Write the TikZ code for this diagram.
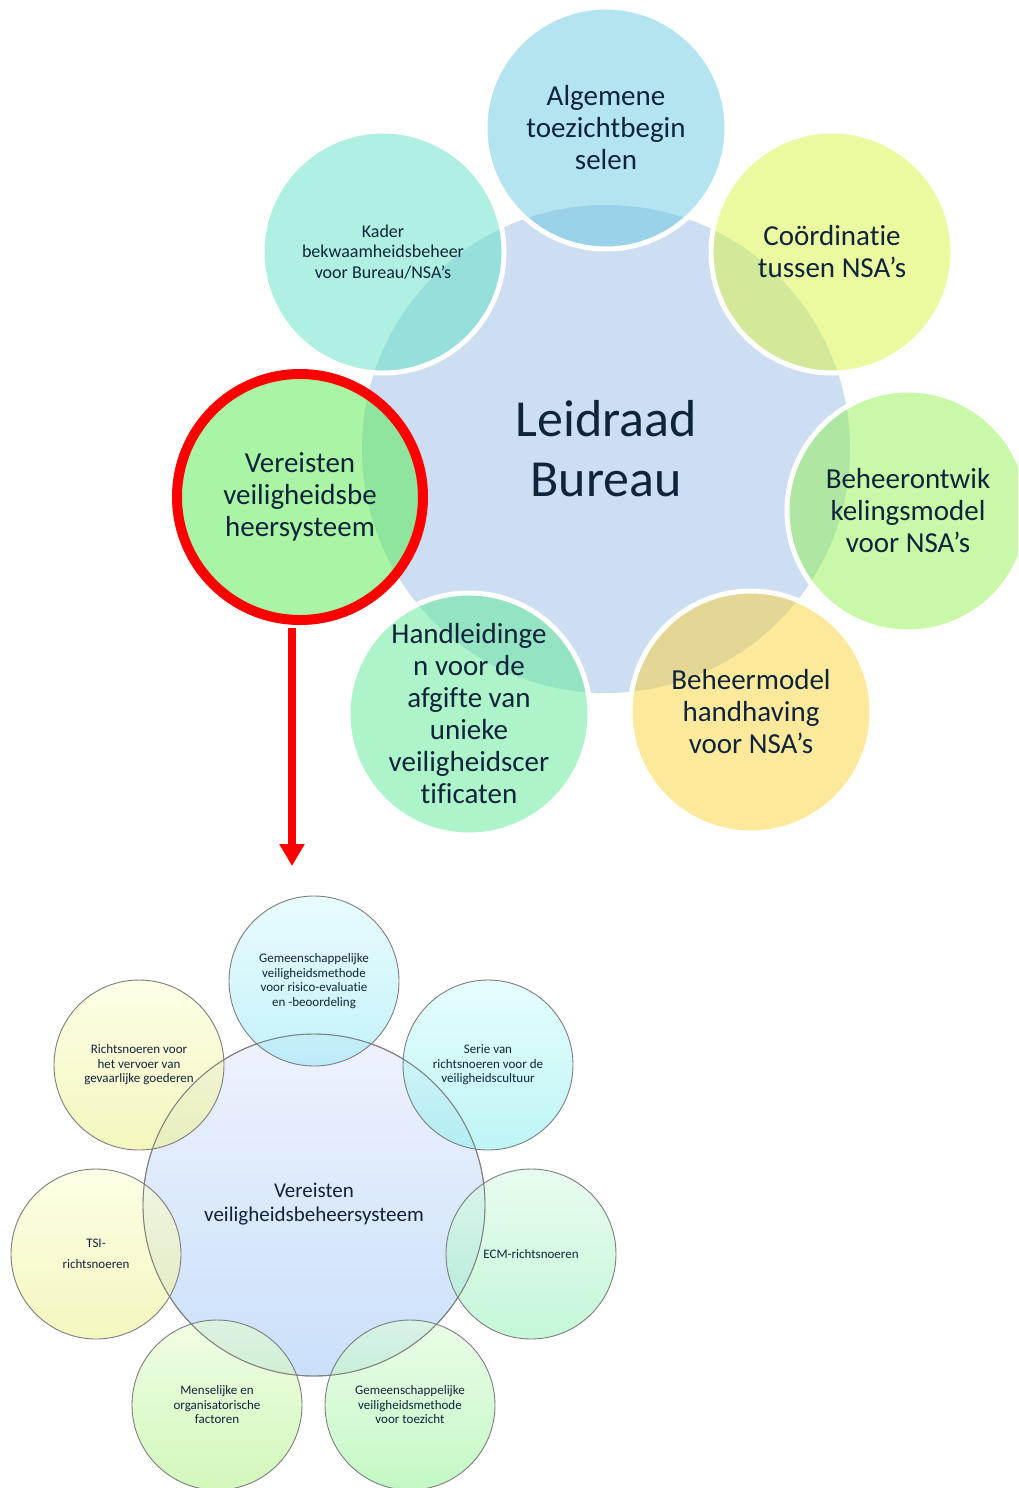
\documentclass[tikz,border=0pt]{standalone}
\usepackage{fontspec}
\setmainfont{Carlito}[Ligatures=CommonOff]
\usetikzlibrary{arrows.meta}
\definecolor{navy}{RGB}{15,36,58}
\definecolor{cen}{RGB}{205,221,242}
\definecolor{sAlg}{RGB}{105,201,225}
\definecolor{sCoo}{RGB}{215,245,65}
\definecolor{sBeo}{RGB}{145,241,81}
\definecolor{sBeh}{RGB}{251,211,57}
\definecolor{sHan}{RGB}{93,233,149}
\definecolor{sVer}{RGB}{83,235,75}
\definecolor{sKad}{RGB}{97,225,197}
\definecolor{redring}{RGB}{255,0,0}
\definecolor{lcTop}{RGB}{238,242,253}
\definecolor{lcBot}{RGB}{202,224,250}
\definecolor{cyT}{RGB}{217,250,253}
\definecolor{cyB}{RGB}{157,233,245}
\definecolor{csT}{RGB}{213,252,252}
\definecolor{csB}{RGB}{147,238,238}
\definecolor{mnT}{RGB}{217,250,227}
\definecolor{mnB}{RGB}{157,242,190}
\definecolor{grT}{RGB}{220,252,217}
\definecolor{grB}{RGB}{157,243,157}
\definecolor{ygT}{RGB}{230,252,210}
\definecolor{ygB}{RGB}{180,243,143}
\definecolor{yeT}{RGB}{253,253,213}
\definecolor{yeB}{RGB}{237,240,147}
\definecolor{outl}{RGB}{125,125,125}
\begin{document}
\begin{tikzpicture}[x=1pt,y=-1pt,
  sat/.style={circle, minimum size=242pt, inner sep=0pt, draw=white, line width=5pt,
    fill opacity=0.5, text opacity=1, align=center, text=navy,
    font=\fontsize{29pt}{32pt}\selectfont},
  censhape/.style={circle, minimum size=488pt, inner sep=0pt, fill=cen, align=center,
    text=navy, font=\fontsize{52pt}{60pt}\selectfont},
  lsat/.style={circle, minimum size=170pt, inner sep=0pt, draw=outl, line width=0.9pt,
    fill opacity=0.6, text opacity=1, align=center, text=navy,
    font=\fontsize{13pt}{14.5pt}\selectfont},
  lcen/.style={circle, minimum size=342pt, inner sep=0pt, draw=outl, line width=0.9pt,
    top color=lcTop, bottom color=lcBot, align=center, text=navy,
    font=\fontsize{21pt}{24pt}\selectfont},
  redarrow/.style={draw=redring, line width=8pt, -{Triangle[width=24pt,length=22pt]}}
]
\useasboundingbox (0,0) rectangle (1018,1488);
\clip (0,0) rectangle (1018,1488);

% upper diagram
\node[censhape] (lb) at (606,449) {Leidraad\\Bureau};
\node[sat, fill=sAlg] (alg) at (606,128) {Algemene\\toezichtbegin\\selen};
\node[sat, fill=sCoo] (coo) at (832,252) {Coördinatie\\tussen NSA’s};
\node[sat, fill=sBeo] (beo) at (908,511) {Beheerontwik\\kelingsmodel\\voor NSA’s};
\node[sat, fill=sBeh] (beh) at (751,712) {Beheermodel\\handhaving\\voor NSA’s};
\node[sat, fill=sHan] (han) at (469,714) {Handleidinge\\n voor de\\afgifte van\\unieke\\veiligheidscer\\tificaten};
\node[sat, fill=sKad, font=\fontsize{18pt}{20.5pt}\selectfont] (kad) at (383,252) {Kader\\bekwaamheidsbeheer\\voor Bureau/NSA’s};
\node[sat, fill=sVer, draw=redring, line width=10pt, minimum size=246pt] (ver) at (300,497) {Vereisten\\veiligheidsbe\\heersysteem};

% arrow
\coordinate (arrS) at (292,628);
\coordinate (arrE) at (292,866);
\draw[redarrow] (arrS) -- (arrE);

% lower diagram
\node[lcen] (vb) at (314,1205) {};
\node[lsat, top color=cyT, bottom color=cyB] (l1) at (314,981) {Gemeenschappelijke\\veiligheidsmethode\\voor risico-evaluatie\\en -beoordeling};
\node[lsat, top color=csT, bottom color=csB] (l2) at (488,1065) {Serie van\\richtsnoeren voor de\\veiligheidscultuur};
\node[lsat, top color=mnT, bottom color=mnB] (l3) at (531,1254) {ECM-richtsnoeren};
\node[lsat, top color=grT, bottom color=grB] (l4) at (410,1405) {Gemeenschappelijke\\veiligheidsmethode\\voor toezicht};
\node[lsat, top color=ygT, bottom color=ygB] (l5) at (217,1405) {Menselijke en\\organisatorische\\factoren};
\node[lsat, top color=yeT, bottom color=yeB] (l6) at (96,1254) {TSI-\\[6pt]richtsnoeren};
\node[lsat, top color=yeT, bottom color=yeB] (l7) at (139,1065) {Richtsnoeren voor\\het vervoer van\\gevaarlijke goederen};
\draw[draw=outl, line width=0.9pt] (vb.center) circle[radius=171pt];
\node[text=navy, align=center, font=\fontsize{21pt}{24pt}\selectfont] (vbt) at (314,1204) {Vereisten\\veiligheidsbeheersysteem};
\end{tikzpicture}
\end{document}
